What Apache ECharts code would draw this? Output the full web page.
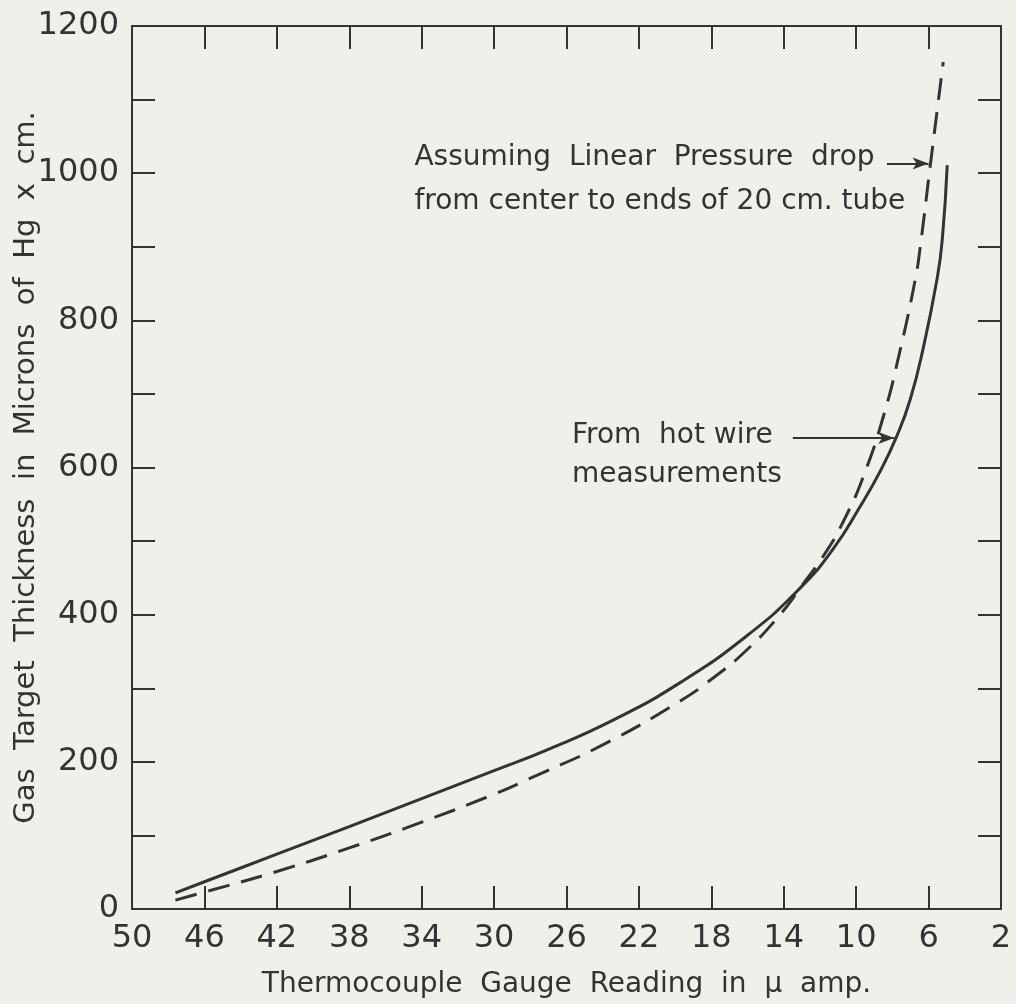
<!DOCTYPE html>
<html>
<head>
<meta charset="utf-8">
<script src="https://cdn.jsdelivr.net/npm/echarts@6/dist/echarts.min.js"></script>
<style>
html,body{margin:0;padding:0;background:#f0f0eb;}
#c{width:1016px;height:1004px;}
</style>
</head>
<body>
<div id="c"></div>
<script>
// Thermocouple gauge reading (μ amp) vs gas target thickness (microns Hg x cm)
const xTicks = [50, 46, 42, 38, 34, 30, 26, 22, 18, 14, 10, 6, 2];
const yTickLabels = [0, 200, 400, 600, 800, 1000, 1200];

const hotWireX = [47.6, 46, 42, 38, 34, 30, 27, 23.4, 19.7, 16, 13.1, 11.25, 9.78, 8.67, 7.75, 7.02, 6.28, 5.54, 5.25, 4.97];
const hotWireY = [22, 37, 74.5, 112, 150, 188, 217, 257, 308, 372, 436, 490, 547, 595, 643, 692, 764, 855, 908, 1011];

const linearX = [47.6, 46, 42, 38, 34, 30, 27.8, 24, 19.9, 17.9, 16, 14.2, 13.1, 11.62, 10.6, 9.6, 8.49, 7.66, 6.74, 6.46, 5.91, 5.19];
const linearY = [12, 23, 51, 83, 118, 156, 180, 223, 280, 314, 353, 400, 436, 487, 532, 588, 670, 750, 855, 900, 1010, 1151];

const FONT = 'DejaVu Sans';
const INK = '#333333';

function pairs(xs, ys){ return xs.map((x,i)=>[x, ys[i]]); }

const chart = echarts.init(document.getElementById('c'), null, {renderer:'canvas'});

const commonX = {
  type:'value', min:2, max:50, interval:4, inverse:true,
  splitLine:{show:false},
  axisLine:{show:true, onZero:false, lineStyle:{color:INK, width:2}},
  axisTick:{show:true, inside:true, length:23, lineStyle:{color:INK, width:2}}
};
const commonY = {
  type:'value', min:0, max:1200, interval:100,
  splitLine:{show:false},
  axisLine:{show:true, onZero:false, lineStyle:{color:INK, width:2}},
  axisTick:{show:true, inside:true, length:23, lineStyle:{color:INK, width:2}}
};

chart.setOption({
  backgroundColor:'#f0f0eb',
  animation:false,
  grid:{left:132, right:15, top:26, bottom:95, containLabel:false, outerBoundsMode:'none'},
  xAxis:[
    Object.assign({}, commonX, {
      position:'bottom',
      axisLabel:{show:true, color:INK, fontFamily:FONT, fontSize:32, margin:14,
        showMinLabel:true, showMaxLabel:true,
        formatter:(v)=> xTicks.includes(v) ? String(v) : ''},
      name:'Thermocouple  Gauge  Reading  in  μ  amp.',
      nameLocation:'middle', nameGap:62, nameMoveOverlap:false,
      nameTextStyle:{color:INK, fontFamily:FONT, fontSize:28}
    }),
    Object.assign({}, commonX, {position:'top', axisLabel:{show:false}})
  ],
  yAxis:[
    Object.assign({}, commonY, {
      position:'left',
      axisLabel:{show:true, color:INK, fontFamily:FONT, fontSize:32, margin:13,
        showMinLabel:true, showMaxLabel:true,
        formatter:(v)=> yTickLabels.includes(v) ? String(v) : ''},
      name:'Gas  Target  Thickness  in  Microns  of  Hg  x  cm.',
      nameLocation:'middle', nameGap:91, nameRotate:90, nameMoveOverlap:false,
      nameTextStyle:{color:INK, fontFamily:FONT, fontSize:29}
    }),
    Object.assign({}, commonY, {position:'right', axisLabel:{show:false}})
  ],
  series:[
    {
      name:'From hot wire measurements', type:'line', xAxisIndex:0, yAxisIndex:0,
      data:pairs(hotWireX, hotWireY), smooth:0.5, showSymbol:false,
      lineStyle:{color:INK, width:3},
      markLine:{
        silent:true, symbol:['none','arrow'], symbolSize:[9,16],
        lineStyle:{color:INK, width:2, type:'solid'}, label:{show:false},
        data:[[{coord:[13.5,640]},{coord:[7.9,640]}]]
      }
    },
    {
      name:'Assuming Linear Pressure drop', type:'line', xAxisIndex:0, yAxisIndex:0,
      data:pairs(linearX, linearY), smooth:0.5, showSymbol:false,
      lineStyle:{color:INK, width:3, type:[22,12]},
      markLine:{
        silent:true, symbol:['none','arrow'], symbolSize:[9,16],
        lineStyle:{color:INK, width:2, type:'solid'}, label:{show:false},
        data:[[{coord:[8.3,1013]},{coord:[6.0,1013]}]]
      }
    }
  ]
});

// annotations placed through the chart's own coordinate conversion
const notes = [
  {x:34.4, y:1018, text:'Assuming  Linear  Pressure  drop'},
  {x:34.4, y:959,  text:'from center to ends of 20 cm. tube'},
  {x:25.7, y:640,  text:'From  hot wire'},
  {x:25.7, y:588,  text:'measurements'}
];
chart.setOption({
  graphic: notes.map(n=>{
    const p = chart.convertToPixel({xAxisIndex:0, yAxisIndex:0}, [n.x, n.y]);
    return {type:'text', left:p[0], top:p[1]-16,
      style:{text:n.text, fill:INK, font:'28px "DejaVu Sans"', textVerticalAlign:'top'}};
  })
});
</script>
</body>
</html>
